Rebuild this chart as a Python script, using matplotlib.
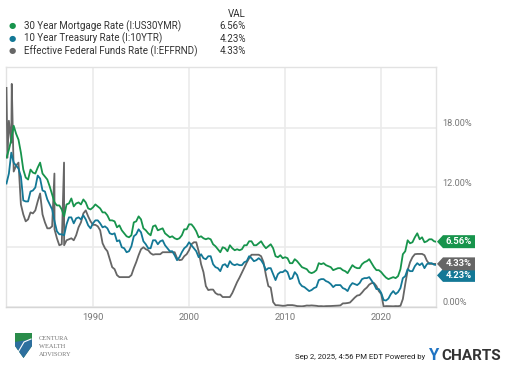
import numpy as np
import matplotlib
matplotlib.use("Agg")
import matplotlib.pyplot as plt
from matplotlib.patches import Polygon

plt.rcParams['font.family'] = ['Roboto', 'DejaVu Sans']

# quarterly readings, 1981 Q1 .. 2025 Q3, plus latest value (Sep 2, 2025)
start_year = 1981
last_date = 2025.67

mortgage = [
    15.0, 15.8, 16.8, 18.2, 17.4, 16.8, 15.5, 13.8, 13.0, 12.8, 13.8, 13.5,
    13.4, 14.0, 14.5, 13.4, 13.1, 12.8, 12.1, 11.3, 10.5, 10.2, 10.2, 9.8,
    9.1, 10.3, 10.4, 10.9, 10.1, 10.4, 10.5, 10.3, 10.8, 10.5, 9.9, 9.8,
    10.0, 10.3, 10.1, 9.9, 9.5, 9.5, 9.2, 8.7, 8.7, 8.6, 8.0, 8.2,
    7.7, 7.4, 7.1, 7.0, 7.2, 8.5, 8.6, 9.1, 8.8, 7.9, 7.7, 7.4,
    7.2, 8.1, 8.2, 7.7, 7.8, 7.9, 7.4, 7.2, 7.0, 7.1, 6.9, 6.8,
    6.9, 7.2, 7.8, 7.8, 8.3, 8.3, 8.0, 7.6, 7.0, 7.1, 6.9, 6.8,
    6.9, 6.8, 6.3, 6.1, 5.8, 5.5, 6.0, 5.9, 5.6, 6.2, 5.9, 5.7,
    5.8, 5.7, 5.8, 6.2, 6.2, 6.6, 6.6, 6.2, 6.2, 6.4, 6.6, 6.2,
    5.9, 6.1, 6.3, 5.9, 5.1, 5.0, 5.2, 4.9, 5.0, 4.9, 4.4, 4.4,
    4.8, 4.6, 4.3, 4.0, 3.9, 3.8, 3.5, 3.4, 3.5, 3.7, 4.4, 4.3,
    4.4, 4.2, 4.1, 4.0, 3.7, 3.8, 3.9, 3.9, 3.7, 3.6, 3.4, 3.8,
    4.2, 4.0, 3.9, 3.9, 4.3, 4.5, 4.6, 4.8, 4.4, 4.0, 3.7, 3.7,
    3.5, 3.2, 2.95, 2.8, 2.9, 3.0, 2.9, 3.1, 3.8, 5.3, 5.6, 6.7,
    6.4, 6.5, 7.0, 7.4, 6.8, 7.0, 6.5, 6.6, 6.8, 6.8, 6.6,
]
treasury = [
    12.4, 13.4, 15.5, 14.5, 14.2, 13.9, 13.1, 10.7, 10.6, 10.6, 11.6, 11.7,
    12.0, 13.2, 12.9, 11.7, 11.6, 10.8, 10.3, 9.8, 8.6, 7.6, 7.3, 7.3,
    7.2, 8.3, 9.0, 9.0, 8.4, 8.9, 9.0, 8.8, 9.2, 8.8, 8.2, 7.9,
    8.4, 8.7, 8.7, 8.4, 8.0, 8.1, 7.9, 7.4, 7.3, 7.4, 6.6, 6.7,
    6.0, 5.9, 5.5, 5.6, 6.1, 7.1, 7.3, 7.8, 7.5, 6.6, 6.3, 5.9,
    5.9, 6.7, 6.7, 6.3, 6.6, 6.7, 6.2, 5.9, 5.6, 5.6, 5.2, 4.7,
    5.0, 5.5, 5.9, 6.1, 6.5, 6.2, 5.9, 5.6, 5.0, 5.3, 4.9, 4.8,
    5.1, 5.1, 4.3, 4.0, 3.9, 3.6, 4.2, 4.3, 4.0, 4.6, 4.3, 4.2,
    4.3, 4.2, 4.2, 4.5, 4.6, 5.1, 4.9, 4.6, 4.7, 4.9, 4.7, 4.3,
    3.7, 3.9, 3.9, 3.3, 2.7, 3.3, 3.5, 3.5, 3.7, 3.5, 2.8, 2.9,
    3.5, 3.2, 2.4, 2.1, 2.0, 1.8, 1.6, 1.7, 1.9, 2.0, 2.7, 2.8,
    2.8, 2.6, 2.5, 2.3, 2.0, 2.2, 2.2, 2.2, 1.9, 1.8, 1.6, 2.1,
    2.4, 2.3, 2.2, 2.4, 2.8, 2.9, 2.9, 3.0, 2.65, 2.3, 1.8, 1.8,
    1.4, 0.7, 0.65, 0.85, 1.3, 1.6, 1.3, 1.5, 1.9, 2.9, 3.1, 3.8,
    3.6, 3.6, 4.1, 4.4, 4.2, 4.4, 3.9, 4.3, 4.4, 4.4, 4.25,
]
fedfunds = [
    22.0, 18.7, 16.5, 13.6, 14.2, 14.5, 10.3, 9.3, 8.6, 8.8, 9.5, 9.4,
    9.7, 10.6, 11.4, 9.3, 8.5, 7.9, 7.9, 8.1, 7.8, 6.9, 6.2, 6.3,
    6.2, 6.7, 6.8, 6.9, 6.7, 7.2, 8.0, 8.5, 9.4, 9.7, 9.1, 8.6,
    8.25, 8.25, 8.1, 7.7, 6.4, 5.9, 5.6, 4.8, 4.0, 3.8, 3.2, 3.0,
    3.0, 3.0, 3.0, 3.0, 3.2, 3.9, 4.5, 5.2, 5.8, 6.0, 5.8, 5.7,
    5.4, 5.25, 5.3, 5.3, 5.3, 5.5, 5.5, 5.5, 5.5, 5.5, 5.5, 4.9,
    4.7, 4.75, 5.1, 5.3, 5.7, 6.3, 6.5, 6.5, 5.6, 4.3, 3.5, 2.1,
    1.7, 1.75, 1.75, 1.4, 1.25, 1.25, 1.0, 1.0, 1.0, 1.0, 1.4, 1.95,
    2.5, 2.95, 3.45, 3.95, 4.45, 4.9, 5.25, 5.25, 5.25, 5.25, 5.1, 4.5,
    3.2, 2.1, 1.95, 0.5, 0.18, 0.18, 0.15, 0.12, 0.13, 0.19, 0.19, 0.19,
    0.15, 0.09, 0.08, 0.07, 0.10, 0.15, 0.14, 0.16, 0.14, 0.12, 0.08, 0.09,
    0.07, 0.09, 0.09, 0.10, 0.11, 0.13, 0.14, 0.16, 0.36, 0.37, 0.40, 0.45,
    0.70, 0.95, 1.15, 1.20, 1.45, 1.75, 1.95, 2.25, 2.40, 2.40, 2.10, 1.60,
    1.30, 0.05, 0.09, 0.09, 0.08, 0.07, 0.09, 0.08, 0.12, 0.80, 2.30, 3.70,
    4.50, 5.00, 5.30, 5.33, 5.33, 5.33, 5.20, 4.65, 4.33, 4.33, 4.33,
]
# short-lived fed funds moves visible in the chart
ff_spike_dates = [1981.1, 1981.55, 1985.99, 1986.99]
ff_spike_vals = [15.0, 22.4, 13.4, 14.5]

names = ["30 Year Mortgage Rate (I:US30YMR)",
         "10 Year Treasury Rate (I:10YTR)",
         "Effective Federal Funds Rate (I:EFFRND)"]
latest = [6.56, 4.23, 4.33]
colors = ["#17944c", "#137896", "#666666"]

quarters = start_year + np.arange(len(mortgage)) * 0.25
x_m = np.append(quarters, last_date)
y_m = np.append(mortgage, latest[0])
y_t = np.append(treasury, latest[1])
x_f = np.concatenate([quarters, ff_spike_dates, [last_date]])
y_f = np.concatenate([fedfunds, ff_spike_vals, [latest[2]]])
order = np.argsort(x_f)
x_f, y_f = x_f[order], y_f[order]

fig = plt.figure(figsize=(5.07, 3.66), dpi=100)
ax = fig.add_axes([6 / 507, 1 - 307 / 366, 430 / 507, 240 / 366])

ax.plot(x_f, y_f, color=colors[2], lw=1.3, zorder=3)
ax.plot(x_m, y_t, color=colors[1], lw=1.3, zorder=4)
ax.plot(x_m, y_m, color=colors[0], lw=1.3, zorder=5)

ax.set_xlim(1980.95, 2025.7)
ax.set_ylim(0, 24.1)
ax.set_xticks([1990, 2000, 2010, 2020])
ax.set_yticks([0, 6, 12, 18])
ax.grid(True, color="#ebebeb", lw=1.2, zorder=0)
for s in ax.spines.values():
    s.set_color("#e2e2e2")
    s.set_linewidth(1.0)
ax.spines['bottom'].set_color("#d6d6d6")
ax.tick_params(length=0, labelsize=6.8, colors="#777777", pad=4)
ax.set_yticklabels([])

# right-side percentage labels (6% hidden behind value tags)
for v in [0, 12, 18]:
    ax.annotate(f"{v:.2f}%", xy=(1.0, v), xycoords=("axes fraction", "data"),
                xytext=(4.5, 3), textcoords="offset points",
                ha="left", va="center", fontsize=6.6, color="#777777")

# value tags at the right edge
fig.canvas.draw()
tag_shift = [0, -10.5, 0]  # pixels, keeps tags from overlapping
for val, col, dy in zip(latest, colors, tag_shift):
    x0, y0 = ax.transData.transform((ax.get_xlim()[1], val))
    y0 += dy
    h, w, tip = 6.5, 38, 6
    pts = [(x0 + 1, y0), (x0 + 1 + tip, y0 + h), (x0 + 1 + w, y0 + h),
           (x0 + 1 + w, y0 - h), (x0 + 1 + tip, y0 - h)]
    fig.patches.append(Polygon(pts, closed=True, transform=None,
                               facecolor=col, edgecolor="none"))
    fig.text((x0 + 1 + tip + (w - tip) / 2) / 507, y0 / 366, f"{val:.2f}%",
             ha="center", va="center", fontsize=6.8, color="white",
             fontweight="bold")

# legend block
fig.text(246 / 507, 1 - 14 / 366, "VAL", ha="right", va="center",
         fontsize=7, color="#333333")
for i, (n, v, c) in enumerate(zip(names, latest, colors)):
    yy = 1 - (26 + 12.5 * i) / 366
    fig.text(12 / 507, yy, "\u25cf", ha="center", va="center",
             fontsize=6, color=c)
    fig.text(24 / 507, yy, n, ha="left", va="center", fontsize=7,
             color="#333333")
    fig.text(246 / 507, yy, f"{v:.2f}%", ha="right", va="center",
             fontsize=7, color="#333333")

# logo: shield with green top, blue bottom and a white swoosh
def px(points):
    return [(x, 366 - y) for x, y in points]

fig.patches.append(Polygon(px([(15, 333), (32, 333), (32, 346), (23.5, 358), (15, 346)]),
                           closed=True, transform=None, facecolor="#2a8c4a",
                           edgecolor="none"))
fig.patches.append(Polygon(px([(15, 342), (32, 339), (32, 346), (23.5, 358), (15, 346)]),
                           closed=True, transform=None, facecolor="#2d6f9e",
                           edgecolor="none"))
fig.lines.append(plt.Line2D([17 / 507, 24 / 507, 31 / 507],
                            [1 - 354 / 366, 1 - 342 / 366, 1 - 339 / 366],
                            transform=fig.transFigure, color="white", lw=0.8))
for i, w in enumerate(["CENTURA", "WEALTH", "ADVISORY"]):
    fig.text(39 / 507, 1 - (339 + 8 * i) / 366, w, ha="left", va="center",
             fontsize=4.6, color="#777777", family="Liberation Serif")

# footer
fig.text(425 / 507, 1 - 357 / 366, "Sep 2, 2025, 4:56 PM EDT Powered by",
         ha="right", va="center", fontsize=5.6, color="#222222")
fig.text(428 / 507, 1 - 356 / 366, "Y", ha="left", va="center",
         fontsize=12, color="#1f73c2", fontweight="bold")
fig.text(441 / 507, 1 - 356 / 366, "CHARTS", ha="left", va="center",
         fontsize=11, color="#333333", fontweight="bold")

fig.savefig("out.png", dpi=100)
